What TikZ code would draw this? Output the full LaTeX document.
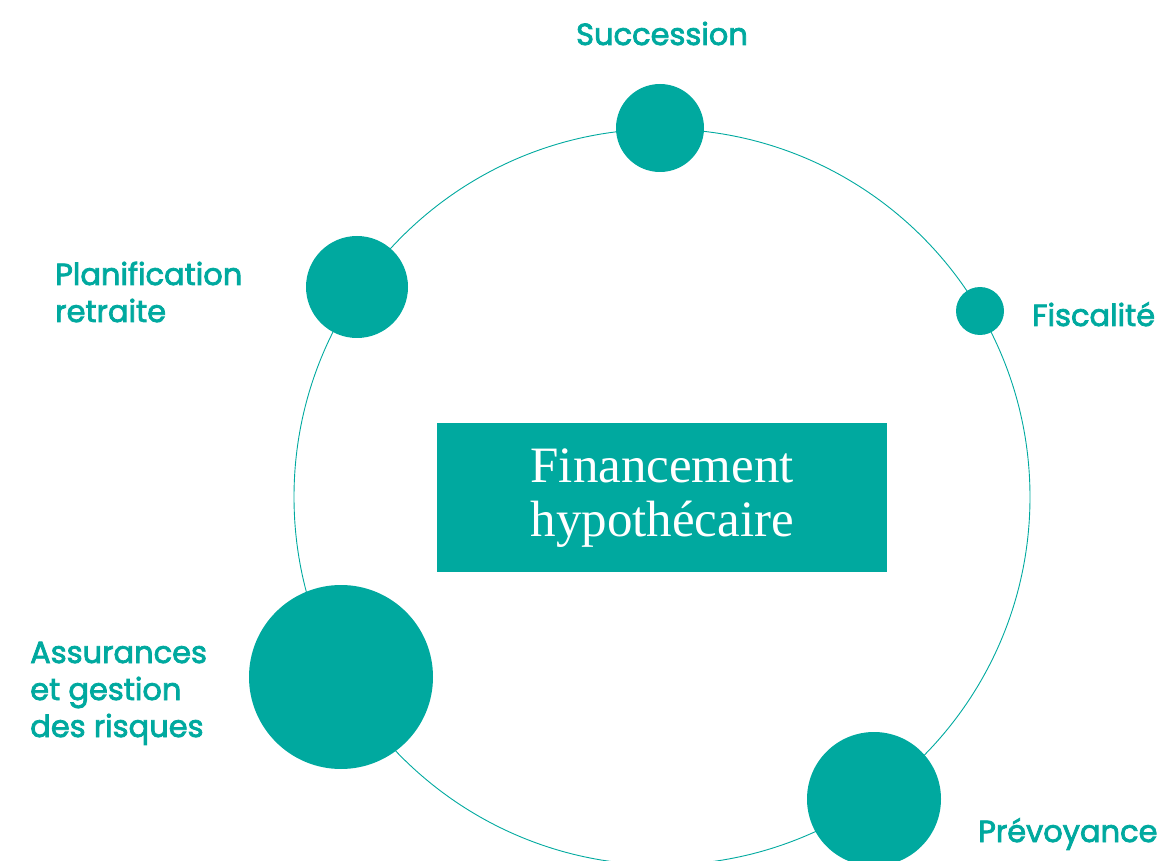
\documentclass[tikz,border=0pt]{standalone}
\usepackage{fontspec}
\setmainfont{Poppins}
\newfontfamily\lblfont{Poppins}[FakeBold=2.5]
\newfontfamily\titlefont{Liberation Serif}
\definecolor{teal1}{HTML}{00A99F}
\begin{document}
\begin{tikzpicture}[x=1pt,y=-1pt,
  dot/.style={circle,fill=teal1,inner sep=0pt,minimum size=#1},
  lbl/.style={text=teal1,font=\lblfont\fontsize{30.5}{37}\selectfont,align=left,inner sep=0pt},
]
\useasboundingbox (0,0) rectangle (1163,861);
\node[circle,draw=teal1,line width=0.9pt,minimum size=736pt,inner sep=0pt] (ring) at (662,497) {};
\node[dot=88pt] (succ) at (660,128) {};
\node[dot=48pt] (fisc) at (980,311) {};
\node[dot=102pt] (plan) at (357,287) {};
\node[dot=184pt] (assu) at (341,677) {};
\node[dot=134pt] (prev) at (874,799) {};
\node[fill=teal1,minimum width=450pt,minimum height=149pt,inner sep=0pt,anchor=north west] (box) at (437,423) {};
\node[text=white,font=\titlefont\fontsize{51}{54}\selectfont,align=center] (title) at (box.center) {Financement\\hypothécaire};
\node[lbl,anchor=base] (tsucc) at (662,45) {Succession};
\node[lbl,anchor=base west] (tfisc) at (1032,326) {Fiscalité};
\node[lbl,anchor=base west] (tplan) at (55,322) {Planification\\retraite};
\node[lbl,anchor=base west] (tassu) at (30,737) {Assurances\\et gestion\\des risques};
\node[lbl,anchor=base west] (tprev) at (978,842) {Prévoyance};
\end{tikzpicture}
\end{document}
